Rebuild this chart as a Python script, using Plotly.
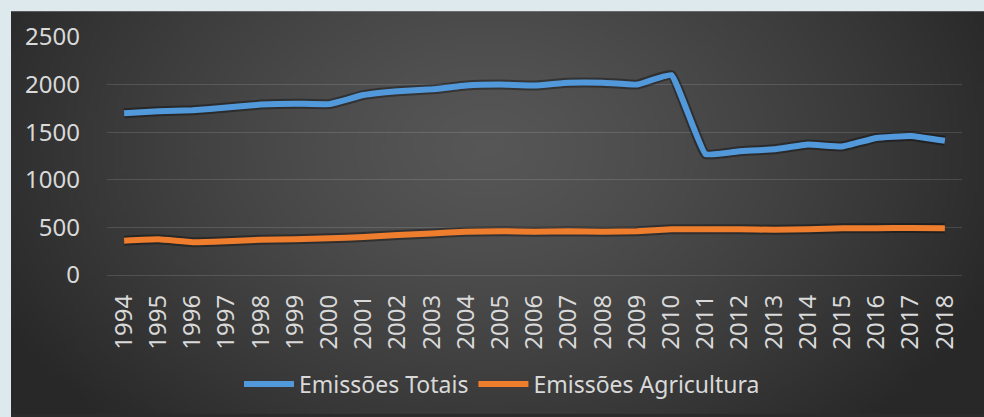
import base64
import math
import struct
import zlib

import plotly.graph_objects as go

# ---------------- data ----------------
years = [str(y) for y in range(1994, 2019)]
emissoes_totais = [1700, 1720, 1730, 1760, 1790, 1800, 1795, 1890, 1930, 1950,
                   1990, 2000, 1990, 2020, 2020, 2000, 2100, 1270, 1300, 1320,
                   1370, 1350, 1440, 1460, 1410]
emissoes_agricultura = [360, 375, 345, 355, 370, 375, 385, 400, 420, 435,
                        455, 460, 455, 460, 455, 460, 480, 480, 480, 475,
                        480, 490, 490, 495, 490]
y_ticks = [0, 500, 1000, 1500, 2000, 2500]

# ---------------- geometry ----------------
W, H = 984, 417
ML, MR, MT, MB = 107, 22, 37, 140
PW, PH = W - ML - MR, H - MT - MB
LIGHT = "#DDE9EC"
EDGE = "#2B2B2B"


def px_x(p):
    return (p - ML) / PW


def px_y(p):
    return (H - MB - p) / PH


def radial_png(w=240, h=120):
    rows = b""
    for j in range(h):
        row = bytearray([0])
        fy = (j + 0.5) / h
        for i in range(w):
            fx = (i + 0.5) / w
            d = math.sqrt(((fx - 0.49) / 0.56) ** 2 + ((fy - 0.34) / 0.95) ** 2)
            d = min(d, 1.0)
            v = int(round(86 - 46 * d ** 1.3))
            row.append(v)
        rows += bytes(row)

    def chunk(tag, data):
        c = struct.pack(">I", len(data)) + tag + data
        return c + struct.pack(">I", zlib.crc32(tag + data) & 0xFFFFFFFF)

    png = b"\x89PNG\r\n\x1a\n"
    png += chunk(b"IHDR", struct.pack(">IIBBBBB", w, h, 8, 0, 0, 0, 0))
    png += chunk(b"IDAT", zlib.compress(rows, 9))
    png += chunk(b"IEND", b"")
    return "data:image/png;base64," + base64.b64encode(png).decode()


img_x0, img_y0 = 11, 11
img = dict(
    source=radial_png(),
    xref="paper", yref="paper",
    x=px_x(img_x0), y=px_y(img_y0),
    sizex=(W - img_x0) / PW, sizey=(H - img_y0) / PH,
    xanchor="left", yanchor="top",
    sizing="stretch", layer="below",
)

border_shapes = [
    dict(type="rect", xref="paper", yref="paper", layer="below",
         x0=px_x(-5), x1=px_x(W + 5), y0=px_y(-5), y1=px_y(img_y0),
         fillcolor=LIGHT, line=dict(width=0)),
    dict(type="rect", xref="paper", yref="paper", layer="below",
         x0=px_x(-5), x1=px_x(img_x0), y0=px_y(-5), y1=px_y(H + 5),
         fillcolor=LIGHT, line=dict(width=0)),
]

BLUE = "#5299DB"
ORANGE = "#EE7D2E"
SMOOTH = 0.3

fig = go.Figure()
for vals in (emissoes_totais, emissoes_agricultura):
    fig.add_trace(go.Scatter(
        x=years, y=vals, mode="lines", showlegend=False, hoverinfo="skip",
        line=dict(color="rgba(0,0,0,0.35)", width=10, shape="spline", smoothing=SMOOTH),
    ))
fig.add_trace(go.Scatter(
    x=years, y=emissoes_totais, mode="lines", name="Emissões Totais",
    line=dict(color=BLUE, width=6, shape="spline", smoothing=SMOOTH),
))
fig.add_trace(go.Scatter(
    x=years, y=emissoes_agricultura, mode="lines", name="Emissões Agricultura",
    line=dict(color=ORANGE, width=6, shape="spline", smoothing=SMOOTH),
))

font = "Noto Sans"
fig.update_layout(
    width=W, height=H,
    margin=dict(l=ML, r=MR, t=MT, b=MB),
    paper_bgcolor=EDGE,
    plot_bgcolor="rgba(0,0,0,0)",
    images=[img],
    shapes=border_shapes,
    font=dict(family=font, color="#D9D9D9", size=22),
    showlegend=True,
    legend=dict(
        orientation="h", x=px_x(502), xanchor="center",
        y=px_y(387), yanchor="middle",
        font=dict(size=23, color="#D9D9D9"),
        bgcolor="rgba(0,0,0,0)", itemwidth=50, tracegroupgap=0,
    ),
    hovermode=False,
)
fig.update_xaxes(
    type="category", range=[-0.5, len(years) - 0.5], tickangle=-90,
    showgrid=False, showline=False, automargin=False,
    zeroline=False, ticks="", tickfont=dict(size=24, color="#D9D9D9"),
    ticklabelstandoff=14,
)
fig.update_yaxes(
    range=[0, 2500], tickvals=y_ticks, ticktext=[str(v) for v in y_ticks],
    showgrid=True, gridcolor="rgba(255,255,255,0.13)", gridwidth=1,
    zeroline=True, zerolinecolor="rgba(255,255,255,0.13)", zerolinewidth=1,
    showline=False, ticks="", automargin=False,
    tickfont=dict(size=24, color="#D9D9D9"),
    ticklabelstandoff=26,
)

fig.write_html(
    "out.html",
    config={"displayModeBar": False},
    post_script=(
        "var s=document.createElement('style');"
        "s.textContent='::-webkit-scrollbar{display:none;width:0;height:0}"
        "html,body{scrollbar-width:none;overflow:hidden;margin:0;padding:0;background:#2B2B2B}';"
        "document.head.appendChild(s);"
    ),
)
